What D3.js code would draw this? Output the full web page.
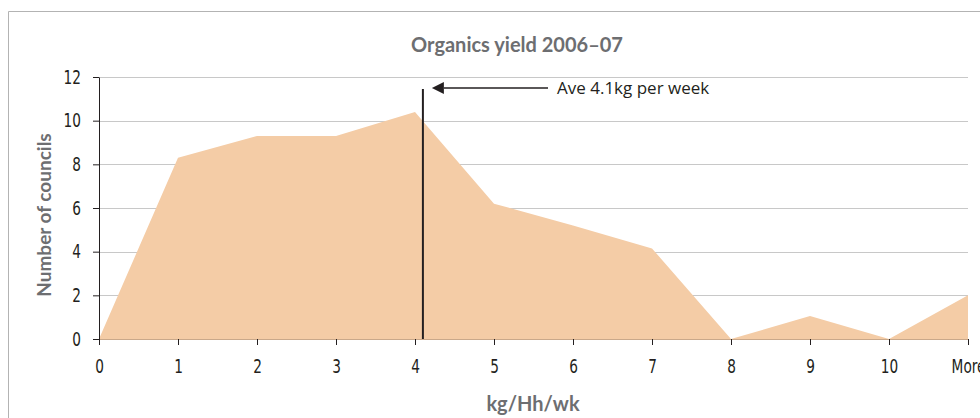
<!DOCTYPE html>
<html>
<head>
<meta charset="utf-8">
<script src="https://cdn.jsdelivr.net/npm/d3@7"></script>
<style>
  body { margin: 0; background: #fff; }
  svg text { font-family: "Liberation Sans Narrow", "DejaVu Sans Condensed", sans-serif; }
  .ttl { font-family: "Lato", "Liberation Sans", sans-serif !important; font-weight: bold; fill: #6d6e71; }
</style>
</head>
<body>
<div id="chart"></div>
<script>
// data
const categories = ["0", "1", "2", "3", "4", "5", "6", "7", "8", "9", "10", "More"];
const councils = [0, 8.3, 9.3, 9.3, 10.4, 6.2, 5.2, 4.15, 0, 1.05, 0, 2];
const yTicks = [0, 2, 4, 6, 8, 10, 12];
const average = 4.1;

const width = 980, height = 418;
const margin = { top: 77, right: 12, bottom: 79, left: 99 };
const squeeze = 0.8; // condensed look for tick labels

const svg = d3.select("#chart").append("svg")
  .attr("width", width)
  .attr("height", height);

// outer frame
svg.append("path")
  .attr("d", `M8.5,${height} V11.5 H${width}`)
  .attr("fill", "none")
  .attr("stroke", "#b3b3b3")
  .attr("stroke-width", 1);

const x = d3.scaleLinear()
  .domain([0, categories.length - 1])
  .range([margin.left, width - margin.right]);

const y = d3.scaleLinear()
  .domain([0, 12])
  .range([height - margin.bottom, margin.top]);

// gridlines
svg.append("g")
  .selectAll("line")
  .data(yTicks.filter(d => d > 0))
  .join("line")
  .attr("x1", x(0))
  .attr("x2", x(categories.length - 1))
  .attr("y1", d => Math.round(y(d)) + 0.5)
  .attr("y2", d => Math.round(y(d)) + 0.5)
  .attr("stroke", "#c8c8c8")
  .attr("stroke-width", 1);

// area
const area = d3.area()
  .x((d, i) => x(i))
  .y0(y(0))
  .y1(d => y(d));

svg.append("path")
  .datum(councils)
  .attr("d", area)
  .attr("fill", "#f4cca6");

// y axis
const yAxis = svg.append("g")
  .attr("transform", `translate(${x(0)},0)`)
  .call(d3.axisLeft(y).tickValues(yTicks).tickSize(6).tickSizeOuter(0));
yAxis.select(".domain").attr("stroke", "#231f20");
yAxis.selectAll(".tick line").attr("stroke", "#231f20");
yAxis.selectAll("text")
  .attr("font-size", 19)
  .attr("fill", "#231f20")
  .attr("x", 0)
  .attr("transform", `translate(-18,0) scale(${squeeze},1)`);

// x axis
const xAxis = svg.append("g")
  .attr("transform", `translate(0,${y(0)})`)
  .call(d3.axisBottom(x)
    .tickValues(d3.range(categories.length))
    .tickFormat(i => categories[i])
    .tickSize(6)
    .tickSizeOuter(0));
xAxis.select(".domain").attr("stroke", "#c9a88a");
xAxis.selectAll(".tick line").attr("stroke", "#231f20");
xAxis.selectAll("text")
  .attr("font-size", 19)
  .attr("fill", "#231f20")
  .attr("y", 21)
  .attr("transform", `scale(${squeeze},1)`);

// average line + arrow
const ax = x(average);
svg.append("line")
  .attr("x1", ax).attr("x2", ax)
  .attr("y1", 89).attr("y2", y(0))
  .attr("stroke", "#231f20")
  .attr("stroke-width", 2);

svg.append("defs").append("marker")
  .attr("id", "arrow")
  .attr("viewBox", "0 0 10 10")
  .attr("refX", 0).attr("refY", 5)
  .attr("markerWidth", 14).attr("markerHeight", 12)
  .attr("markerUnits", "userSpaceOnUse")
  .attr("orient", "auto-start-reverse")
  .append("path")
  .attr("d", "M0,0 L10,5 L0,10 Z")
  .attr("fill", "#231f20");

svg.append("line")
  .attr("x1", 548).attr("x2", ax + 21)
  .attr("y1", 88).attr("y2", 88)
  .attr("stroke", "#231f20")
  .attr("stroke-width", 1.5)
  .attr("marker-end", "url(#arrow)");

svg.append("text")
  .attr("x", 557).attr("y", 94)
  .attr("fill", "#231f20")
  .style("font-family", "'Open Sans', 'Liberation Sans', sans-serif")
  .style("font-size", "17px")
  .text("Ave 4.1kg per week");

// titles
svg.append("text")
  .attr("class", "ttl")
  .attr("x", 517).attr("y", 52)
  .attr("text-anchor", "middle")
  .attr("font-size", 20)
  .text("Organics yield 2006\u201307");

svg.append("text")
  .attr("class", "ttl")
  .attr("transform", `translate(51,${(y(0) + y(12)) / 2 + 7}) rotate(-90)`)
  .attr("text-anchor", "middle")
  .attr("font-size", 19)
  .text("Number of councils");

svg.append("text")
  .attr("class", "ttl")
  .attr("x", 533).attr("y", 411)
  .attr("text-anchor", "middle")
  .attr("font-size", 20)
  .text("kg/Hh/wk");
</script>
</body>
</html>
